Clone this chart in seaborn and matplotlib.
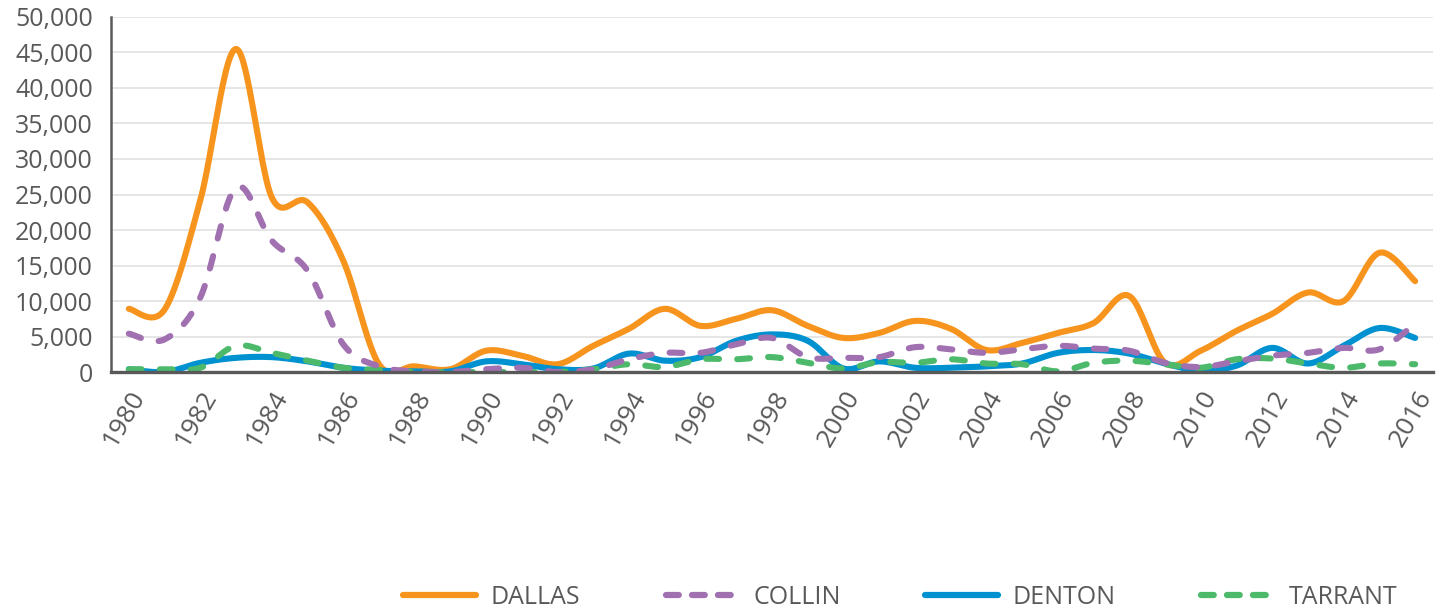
import matplotlib
matplotlib.use("Agg")
import matplotlib.pyplot as plt
import numpy as np
import seaborn as sns
from matplotlib.lines import Line2D
from matplotlib.ticker import FuncFormatter, MultipleLocator

YEARS = list(range(1980, 2017))
COUNTIES = ["DALLAS", "COLLIN", "DENTON", "TARRANT"]
DRAW_ORDER = ["DALLAS", "DENTON", "TARRANT", "COLLIN"]

DALLAS = [8900, 8800, 24200, 45500, 24600, 23900, 15700, 1100, 800, 400,
          3000, 2300, 1100, 3700, 6100, 8900, 6500, 7500, 8700, 6500,
          4800, 5500, 7200, 6100, 3100, 4100, 5500, 6900, 10700, 1300,
          3000, 5800, 8200, 11200, 10000, 16800, 12800]
COLLIN = [5400, 4600, 10500, 26000, 18500, 14300, 3900, 800, 100, 0,
          400, 600, 0, 400, 1800, 2700, 2700, 3900, 4800, 2100,
          2000, 2100, 3500, 3200, 2700, 3200, 3700, 3300, 3000, 1300,
          700, 1500, 2300, 2700, 3400, 3200, 6800]
DENTON = [400, 0, 1300, 2000, 2100, 1500, 600, 200, 100, 100,
          1500, 1100, 400, 500, 2600, 1600, 2100, 4400, 5300, 4400,
          500, 1500, 600, 600, 800, 1200, 2700, 3100, 2600, 1200,
          200, 900, 3400, 1200, 3700, 6200, 4800]
TARRANT = [400, 400, 600, 3700, 2700, 1600, 600, 300, 0, 0,
           0, 0, 0, 400, 1100, 700, 1800, 1800, 2100, 1300,
           500, 1400, 1300, 1800, 1200, 1100, 100, 1300, 1600, 1100,
           600, 1800, 1900, 1200, 600, 1200, 1100]

COLORS = {"DALLAS": "#f7941d", "COLLIN": "#a070b0",
          "DENTON": "#0092d0", "TARRANT": "#4cb96b"}
DASHED = {"DALLAS": False, "COLLIN": True, "DENTON": False, "TARRANT": True}
TEXT = "#595959"


def smooth(x, y, n=24):
    # Catmull-Rom through the yearly points, like Excel's smoothed line
    p = np.column_stack([x, y]).astype(float)
    p = np.vstack([p[0], p, p[-1]])
    t = np.linspace(0, 1, n, endpoint=False)[:, None]
    out = []
    for i in range(len(p) - 3):
        p0, p1, p2, p3 = p[i], p[i + 1], p[i + 2], p[i + 3]
        out.append(0.5 * (2 * p1 + (p2 - p0) * t
                          + (2 * p0 - 5 * p1 + 4 * p2 - p3) * t ** 2
                          + (-p0 + 3 * p1 - 3 * p2 + p3) * t ** 3))
    out.append(p[-2][None, :])
    c = np.vstack(out)
    return c[:, 0], c[:, 1]


series = {"DALLAS": DALLAS, "COLLIN": COLLIN, "DENTON": DENTON, "TARRANT": TARRANT}

sns.set_theme(style="white")
plt.rcParams["font.family"] = ["Open Sans", "DejaVu Sans"]
plt.rcParams["lines.scale_dashes"] = False

fig = plt.figure(figsize=(14.45, 6.13), dpi=100)
ax = fig.add_axes([0.0768, 0.3931, 0.9149, 0.5792])

for name in DRAW_ORDER:
    sx, sy = smooth(YEARS, series[name])
    sns.lineplot(x=sx, y=sy, color=COLORS[name], linewidth=4.4,
                 estimator=None, sort=False, ax=ax)
    ln = ax.lines[-1]
    if DASHED[name]:
        ln.set_linestyle((0, (9.2, 13.1)))
    ln.set_dash_capstyle("round")
    ln.set_solid_capstyle("round")

ax.set_xlim(1979.5, 2016.5)
ax.set_ylim(0, 50000)
ax.yaxis.set_major_locator(MultipleLocator(5000))
ax.yaxis.set_major_formatter(FuncFormatter(lambda v, _: f"{v:,.0f}"))
ax.set_xticks(YEARS[::2])
ax.set_xlabel("")
ax.set_ylabel("")
ax.grid(axis="y", color="#e6e6e6", lw=1.4)
ax.set_axisbelow(True)

for s in ["top", "right"]:
    ax.spines[s].set_visible(False)
ax.spines["left"].set_color(TEXT)
ax.spines["left"].set_linewidth(1.8)
ax.spines["bottom"].set_color(TEXT)
ax.spines["bottom"].set_linewidth(2.4)

ax.tick_params(axis="y", length=0, pad=13, labelsize=18, labelcolor=TEXT)
ax.tick_params(axis="x", length=0, pad=10, labelsize=19, labelcolor=TEXT)
for lab in ax.get_xticklabels():
    lab.set_rotation(60)
    lab.set_ha("right")
    lab.set_va("top")
    lab.set_rotation_mode("anchor")

handles = [Line2D([], [], color=COLORS[c], lw=4.5,
                  linestyle=(0, (9.2, 9.5)) if DASHED[c] else "-",
                  dash_capstyle="round", solid_capstyle="round")
           for c in COUNTIES]
leg = fig.legend(handles, COUNTIES, loc="center", bbox_to_anchor=(0.623, 0.026),
                 ncol=4, frameon=False, fontsize=18, handlelength=2.9,
                 handletextpad=0.6, columnspacing=3.4)
for t in leg.get_texts():
    t.set_color(TEXT)

fig.savefig("out.png", dpi=100)
